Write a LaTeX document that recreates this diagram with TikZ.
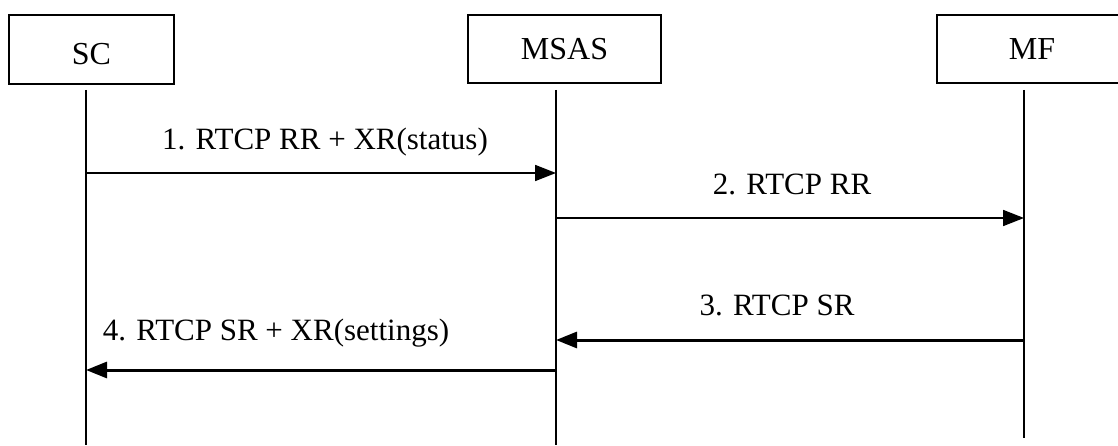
\documentclass[tikz,border=0pt]{standalone}
\usepackage{fontspec}
\setmainfont{Liberation Serif}
\usetikzlibrary{positioning, arrows.meta}

\begin{document}
\begin{tikzpicture}[
    x=1pt, y=-1pt,
    box/.style={rectangle, draw=black, line width=1.6pt, inner sep=0pt, font=\fontsize{32}{36}\selectfont},
    life/.style={draw, line width=1.6pt},
    msg/.style={draw, line width=1.8pt, -{Triangle[length=21pt, width=16pt]}},
    bigmsg/.style={draw, line width=3pt, -{Triangle[length=21pt, width=16pt]}},
    lbl/.style={anchor=base, inner sep=0pt, font=\fontsize{31}{36}\selectfont}
    ]
    \useasboundingbox (0,0) rectangle (1118,446);

    % Nodes
    \node (sc) [box, minimum width=165pt, minimum height=69pt] at (91.5,49.5) {\raisebox{-15pt}[0pt][0pt]{SC}};
    \node (msas) [box, minimum width=193pt, minimum height=68pt] at (564.5,49) {MSAS};
    \node (mf) [box, minimum width=190pt, minimum height=68pt] at (1032,49) {MF};

    % Lifelines
    \coordinate (sc-top) at (86,90);
    \coordinate (sc-bot) at (86,445);
    \coordinate (msas-top) at (556,90);
    \coordinate (msas-bot) at (556,445);
    \coordinate (mf-top) at (1024,90);
    \coordinate (mf-bot) at (1024,438);
    \draw [life] (sc-top) -- (sc-bot);
    \draw [life] (msas-top) -- (msas-bot);
    \draw [life] (mf-top) -- (mf-bot);

    % Arrows
    \draw [msg] (sc-top |- 0,173) -- (msas-top |- 0,173);
    \draw [msg] (msas-top |- 0,218) -- (mf-top |- 0,218);
    \draw [bigmsg] (mf-top |- 0,340) -- (msas-top |- 0,340);
    \draw [bigmsg] (msas-top |- 0,370) -- (sc-top |- 0,370);

    % Labels
    \node (l1) [lbl] at (325,150) {1. RTCP RR + XR(status)};
    \node (l2) [lbl] at (792,195) {2. RTCP RR};
    \node (l3) [lbl] at (777,315) {3. RTCP SR};
    \node (l4) [lbl] at (276,340) {4. RTCP SR + XR(settings)};
\end{tikzpicture}
\end{document}
